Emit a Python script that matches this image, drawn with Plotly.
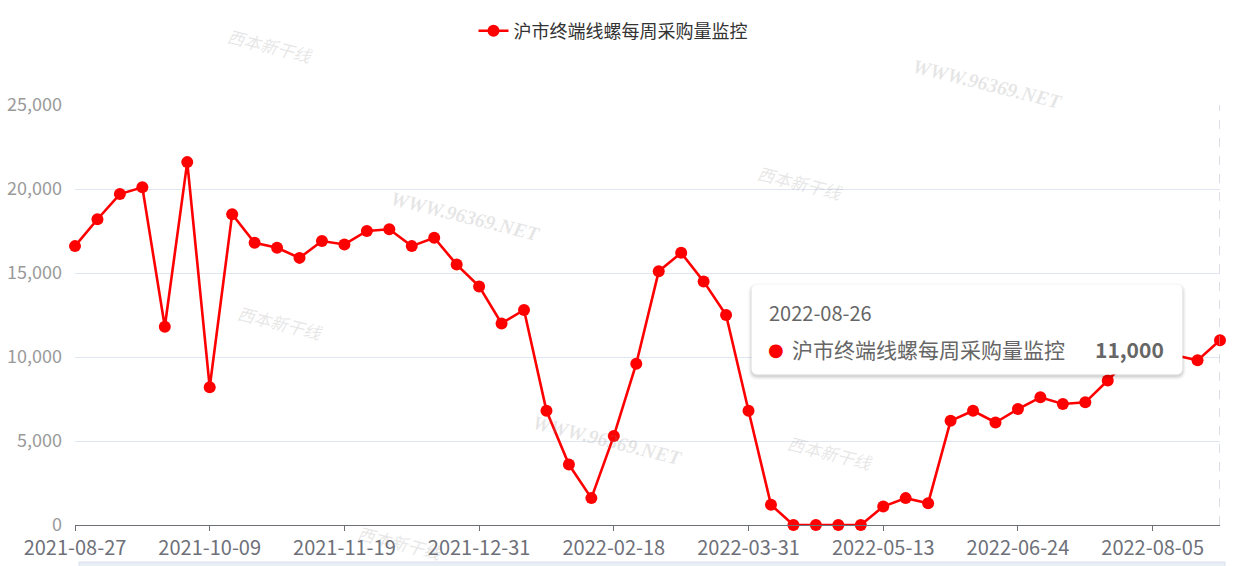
import plotly.graph_objects as go

dates = [
    "2021-08-27", "2021-09-03", "2021-09-10", "2021-09-17", "2021-09-24", "2021-09-30",
    "2021-10-09", "2021-10-15", "2021-10-22", "2021-10-29", "2021-11-05", "2021-11-12",
    "2021-11-19", "2021-11-26", "2021-12-03", "2021-12-10", "2021-12-17", "2021-12-24",
    "2021-12-31", "2022-01-07", "2022-01-14", "2022-01-21", "2022-01-28", "2022-02-11",
    "2022-02-18", "2022-02-25", "2022-03-04", "2022-03-11", "2022-03-18", "2022-03-25",
    "2022-03-31", "2022-04-08", "2022-04-15", "2022-04-22", "2022-04-29", "2022-05-06",
    "2022-05-13", "2022-05-20", "2022-05-27", "2022-06-02", "2022-06-10", "2022-06-17",
    "2022-06-24", "2022-07-01", "2022-07-08", "2022-07-15", "2022-07-22", "2022-07-29",
    "2022-08-05", "2022-08-12", "2022-08-19", "2022-08-26",
]
values = [
    16600, 18200, 19700, 20100, 11800, 21600,
    8200, 18500, 16800, 16500, 15900, 16900,
    16700, 17500, 17600, 16600, 17100, 15500,
    14200, 12000, 12800, 6800, 3600, 1600,
    5300, 9600, 15100, 16200, 14500, 12500,
    6800, 1200, 0, 0, 0, 0,
    1100, 1600, 1300, 6200, 6800, 6100,
    6900, 7600, 7200, 7300, 8600, 10000,
    10300, 10100, 9800, 11000,
]
series_name = "沪市终端线螺每周采购量监控"
tick_dates = dates[::6]
y_ticks = [0, 5000, 10000, 15000, 20000, 25000]

FONT = "Noto Sans CJK SC, Microsoft YaHei, sans-serif"

# plot area in pixels
L, R, T, B = 75, 1220, 105, 525
W, H = 1255, 566


def px2paper(px, py):
    return (px - L) / (R - L), (B - py) / (B - T)


def rrect(x0, y0, x1, y1, r):
    def P(x, y):
        a, b = px2paper(x, y)
        return f"{a:.5f},{b:.5f}"
    return (f"M {P(x0 + r, y0)} L {P(x1 - r, y0)} Q {P(x1, y0)} {P(x1, y0 + r)} "
            f"L {P(x1, y1 - r)} Q {P(x1, y1)} {P(x1 - r, y1)} L {P(x0 + r, y1)} "
            f"Q {P(x0, y1)} {P(x0, y1 - r)} L {P(x0, y0 + r)} Q {P(x0, y0)} {P(x0 + r, y0)} Z")


fig = go.Figure()
fig.add_trace(go.Scatter(
    x=dates, y=values, name=series_name, mode="lines+markers",
    line=dict(color="#ff0000", width=2.6),
    marker=dict(color="#ff0000", size=12),
    cliponaxis=False,
))

shapes = []
shapes.append(dict(type="line", xref="x", yref="paper", x0=dates[-1], x1=dates[-1],
                   y0=0, y1=1, line=dict(color="#b6bccb", width=1, dash="dash"), layer="above"))

# tooltip shadow + box
bx0, by0, bx1, by1 = 752, 285, 1182, 374
for i, op in enumerate([0.025, 0.035, 0.045, 0.06]):
    g = 4 - i
    shapes.append(dict(type="path", xref="paper", yref="paper",
                       path=rrect(bx0 - g, by0 - g + 2, bx1 + g, by1 + g + 2, 6 + g),
                       fillcolor=f"rgba(0,0,0,{op})", line=dict(width=0), layer="above"))
shapes.append(dict(type="path", xref="paper", yref="paper",
                   path=rrect(bx0, by0, bx1, by1, 5),
                   fillcolor="#ffffff", line=dict(color="#ffffff", width=1), layer="above"))

# bottom slider strip
sx0, sy0 = px2paper(79, 562)
sx1, sy1 = px2paper(1225, 570)
shapes.append(dict(type="rect", xref="paper", yref="paper", x0=sx0, x1=sx1, y0=sy1, y1=sy0,
                   fillcolor="#e9eef7", line=dict(color="#d8dfee", width=1), layer="below"))

annotations = []
wm_color = "rgba(140,140,140,0.22)"
for (px, py) in [(988, 84), (465, 216), (607, 440)]:
    ax_, ay_ = px2paper(px, py)
    annotations.append(dict(x=ax_, y=ay_, xref="paper", yref="paper", text="<b><i>WWW.96369.NET</i></b>",
                            showarrow=False, textangle=14, xanchor="center", yanchor="middle",
                            font=dict(family="Liberation Serif, serif", size=20, color=wm_color)))
for (px, py) in [(270, 45), (800, 182), (280, 322), (830, 452), (400, 542)]:
    ax_, ay_ = px2paper(px, py)
    annotations.append(dict(x=ax_, y=ay_, xref="paper", yref="paper", text="<i>西本新干线</i>",
                            showarrow=False, textangle=14, xanchor="center", yanchor="middle",
                            font=dict(family=FONT, size=17, color=wm_color)))

# tooltip texts
ax_, ay_ = px2paper(767, 312)
annotations.append(dict(x=ax_, y=ay_, xref="paper", yref="paper", text=dates[-1], showarrow=False,
                        xanchor="left", yanchor="middle", font=dict(family=FONT, size=20, color="#666666")))
ax_, ay_ = px2paper(766, 349)
annotations.append(dict(x=ax_, y=ay_, xref="paper", yref="paper", text="●", showarrow=False,
                        xanchor="left", yanchor="middle", font=dict(family="DejaVu Sans", size=18, color="#ff0000")))
ax_, ay_ = px2paper(790, 349)
annotations.append(dict(x=ax_, y=ay_, xref="paper", yref="paper", text=series_name, showarrow=False,
                        xanchor="left", yanchor="middle", font=dict(family=FONT, size=21, color="#666666")))
ax_, ay_ = px2paper(1166, 349)
annotations.append(dict(x=ax_, y=ay_, xref="paper", yref="paper", text=f"<b>{values[-1]:,}</b>", showarrow=False,
                        xanchor="right", yanchor="middle", font=dict(family=FONT, size=21, color="#666666")))

fig.update_layout(
    width=W, height=H, autosize=False,
    margin=dict(l=L, r=W - R, t=T, b=H - B, pad=0, autoexpand=False),
    paper_bgcolor="#ffffff", plot_bgcolor="#ffffff",
    font=dict(family=FONT, size=16, color="#333333"),
    showlegend=True,
    legend=dict(orientation="h", xref="container", yref="container", x=613 / W, y=1 - 31 / H,
                xanchor="center", yanchor="middle",
                font=dict(family=FONT, size=18, color="#333333"), bgcolor="rgba(0,0,0,0)"),
    shapes=shapes,
    annotations=annotations,
    xaxis=dict(type="category", range=[0, len(dates) - 1], tickmode="array",
               tickvals=tick_dates, ticktext=tick_dates, showgrid=False, automargin=False,
               showline=True, linecolor="#6e7079", linewidth=1,
               ticks="outside", ticklen=5, tickcolor="#6e7079",
               tickfont=dict(family=FONT, size=20, color="#6e7079"), zeroline=False),
    yaxis=dict(range=[0, 25000], tickmode="array", tickvals=y_ticks, automargin=False,
               ticktext=[f"{v:,}" for v in y_ticks], showgrid=True, gridcolor="#e0e6f1",
               gridwidth=1, showline=False, zeroline=False, ticks="", ticklabelstandoff=12,
               tickfont=dict(family=FONT, size=18, color="#9a9a9a")),
)

fig.write_html("out.html", config={"displayModeBar": False},
               post_script="document.body.style.margin='0';document.body.style.overflow='hidden';")
